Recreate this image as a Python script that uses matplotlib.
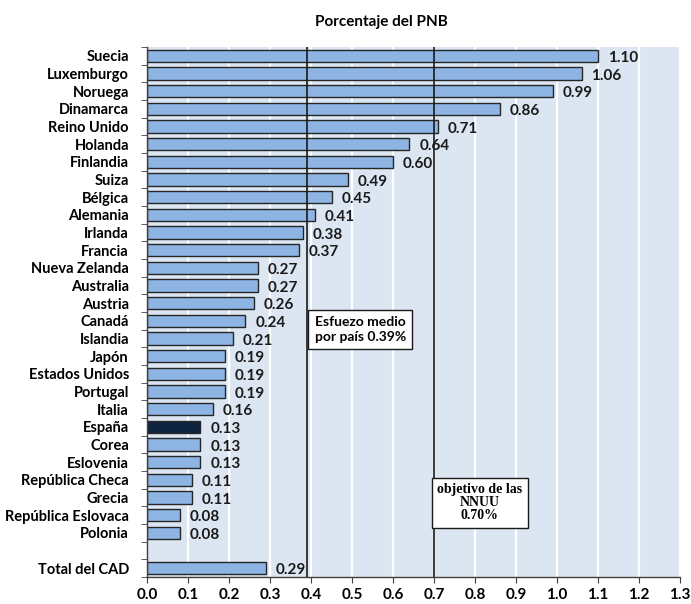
import numpy as np
import matplotlib
matplotlib.use("Agg")
import matplotlib.pyplot as plt

paises = ["Suecia", "Luxemburgo", "Noruega", "Dinamarca", "Reino Unido", "Holanda",
          "Finlandia", "Suiza", "Bélgica", "Alemania", "Irlanda", "Francia",
          "Nueva Zelanda", "Australia", "Austria", "Canadá", "Islandia", "Japón",
          "Estados Unidos", "Portugal", "Italia", "España", "Corea", "Eslovenia",
          "República Checa", "Grecia", "República Eslovaca", "Polonia"]
valores = [1.10, 1.06, 0.99, 0.86, 0.71, 0.64, 0.60, 0.49, 0.45, 0.41, 0.38, 0.37,
           0.27, 0.27, 0.26, 0.24, 0.21, 0.19, 0.19, 0.19, 0.16, 0.13, 0.13, 0.13,
           0.11, 0.11, 0.08, 0.08]
total_label = "Total del CAD"
total_valor = 0.29
media_pais = 0.39
objetivo_nnuu = 0.70
xticks = [round(0.1 * i, 1) for i in range(14)]

plt.rcParams["font.family"] = ["Lato", "DejaVu Sans"]

fig = plt.figure(figsize=(6.91, 6.04), dpi=100)
ax = fig.add_axes([147 / 691, 1 - 577 / 604, (680 - 147) / 691, (577 - 47) / 604])

n = len(paises)
ypos = list(range(n)) + [n + 1]
labels = paises + [total_label]
vals = valores + [total_valor]
colors = ["#0F243E" if p == "España" else "#8DB4E2" for p in labels]

ax.set_facecolor("#DCE6F2")
for x in xticks[1:]:
    ax.axvline(x, color="white", lw=1.6, zorder=0)

ax.barh(ypos, vals, height=0.68, color=colors, edgecolor="#262626", lw=1.0, zorder=2)
for y, v in zip(ypos, vals):
    ax.text(v + 0.024, y + 0.12, f"{v:.2f}", va="center", ha="left",
            fontsize=11, fontweight="bold", color="#1a1a1a", zorder=4)

ax.axvline(media_pais, color="#1a1a1a", lw=1.2, zorder=3)
ax.axvline(objetivo_nnuu, color="#1a1a1a", lw=1.2, zorder=3)

ax.set_xlim(0, 1.3)
ax.set_ylim(n + 1.5, -0.5)
ax.set_xticks(xticks)
ax.set_xticklabels([f"{x:.1f}" for x in xticks], fontsize=11, fontweight="bold")
ax.set_yticks(ypos)
ax.set_yticklabels(labels, fontsize=10.5, fontweight="bold")
ax.tick_params(axis="y", length=0, pad=13)
ax.set_yticks(np.arange(-0.5, n + 2, 1.0), minor=True)
ax.tick_params(axis="y", which="minor", length=4, color="#404040", direction="out")
ax.tick_params(axis="x", length=4, color="#404040", direction="out", pad=4)

for s in ["top", "right"]:
    ax.spines[s].set_visible(False)
for s in ["left", "bottom"]:
    ax.spines[s].set_color("#404040")
    ax.spines[s].set_linewidth(1.0)

fig.text(381 / 691, 1 - 22 / 604, "Porcentaje del PNB", ha="center", va="center",
         fontsize=11, fontweight="bold")

ax.text(0.52, 15.5, "Esfuezo medio\npor país 0.39%", ha="center", va="center",
        fontsize=10, fontweight="bold", linespacing=1.3, zorder=5,
        bbox=dict(boxstyle="square,pad=0.45", fc="white", ec="#1a1a1a", lw=1.0))
ax.text(0.812, 25.3, "objetivo de las\nNNUU\n0.70%", ha="center", va="center",
        fontsize=10, fontweight="bold", family="Liberation Serif", linespacing=1.0,
        zorder=5, bbox=dict(boxstyle="square,pad=0.4", fc="white", ec="#1a1a1a", lw=1.0))

fig.savefig("out.png", dpi=100)
